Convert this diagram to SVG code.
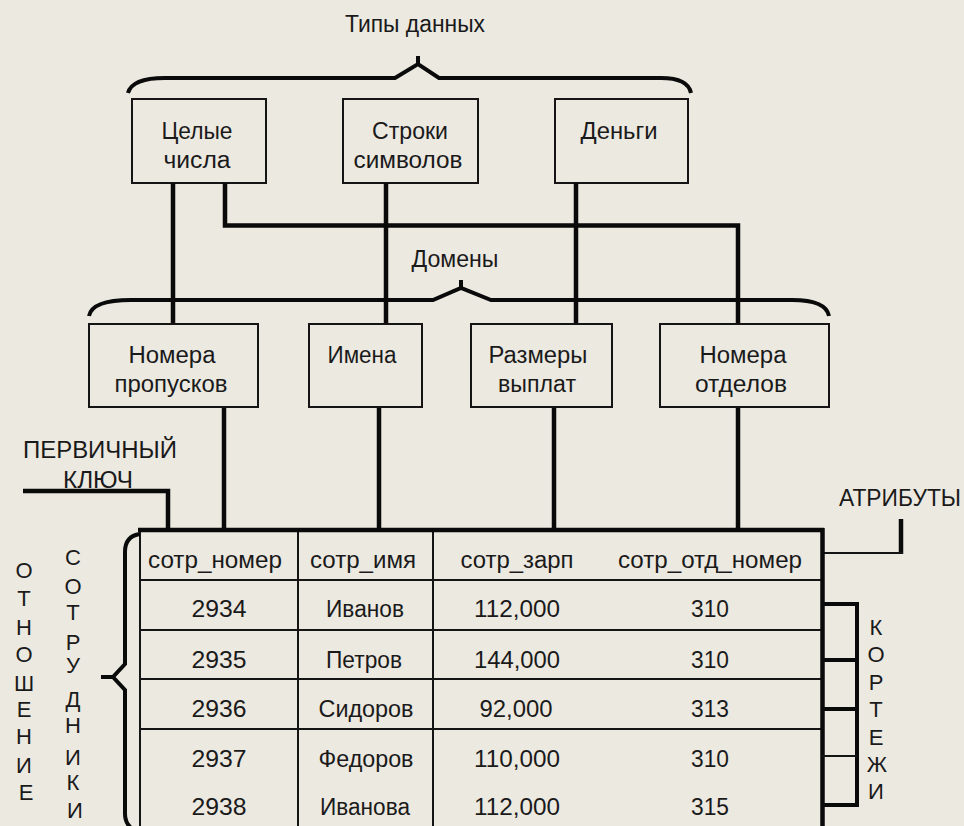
<svg xmlns="http://www.w3.org/2000/svg" width="964" height="826" viewBox="0 0 964 826">
<style>
  text { font-family: "Liberation Sans", Arial, sans-serif; font-size: 23px; fill: #1a1a1a; }
  .c { text-anchor: middle; }
  .v { font-size: 22px; }
  .box { fill: none; stroke: #151515; stroke-width: 2; }
  .ln { fill: none; stroke: #0a0a0a; stroke-width: 4.5; stroke-linecap: butt; }
  .thin { fill: none; stroke: #151515; stroke-width: 2; }
  .brace { fill: none; stroke: #0a0a0a; stroke-width: 4; stroke-linejoin: miter; }
</style>
<rect x="0" y="0" width="964" height="826" fill="#ECE9E1"/>

<g id="title-types">
  <text class="c" x="415" y="32" textLength="140" lengthAdjust="spacingAndGlyphs">Типы данных</text>
  <path class="brace" d="M128,93 Q132,78 165,78 L395,78 L418,64 L439,78 L661,78 Q688,78 691,93 M418,65 V56"/>
</g>

<g id="node-int">
  <rect class="box" x="132" y="99" width="134" height="84"/>
  <text class="c" x="197" y="139" textLength="71" lengthAdjust="spacingAndGlyphs">Целые</text>
  <text class="c" x="197" y="168" textLength="67" lengthAdjust="spacingAndGlyphs">числа</text>
</g>
<g id="node-str">
  <rect class="box" x="343" y="99" width="135" height="84"/>
  <text class="c" x="410" y="139" textLength="76" lengthAdjust="spacingAndGlyphs">Строки</text>
  <text class="c" x="408" y="168" textLength="109" lengthAdjust="spacingAndGlyphs">символов</text>
</g>
<g id="node-money">
  <rect class="box" x="555" y="99" width="133" height="84"/>
  <text class="c" x="619" y="139" textLength="77" lengthAdjust="spacingAndGlyphs">Деньги</text>
</g>

<g id="title-domains">
  <text class="c" x="455" y="267" textLength="87" lengthAdjust="spacingAndGlyphs">Домены</text>
  <path class="brace" d="M89,316 Q92,300 131,300 L433,300 L461,288 L491,300 L792,300 Q826,300 829,316 M461,289 V280"/>
</g>

<g id="connectors">
  <path class="ln" d="M173,183 V324"/>
  <path class="ln" d="M225,183 V225.5 H738 V324" stroke-width="5"/>
  <path class="ln" d="M386,183 V324"/>
  <path class="ln" d="M576,183 V324"/>
  <path class="ln" d="M224,407 V530"/>
  <path class="ln" d="M379,407 V530" stroke-width="5.5"/>
  <path class="ln" d="M554,407 V530"/>
  <path class="ln" d="M738,407 V530"/>
  <path class="ln" d="M23,491 H168 V530"/>
  <path class="ln" d="M901,519 V554"/>
  <path class="thin" d="M822,553 H903"/>
</g>

<g id="node-passes">
  <rect class="box" x="89" y="324" width="169" height="83"/>
  <text class="c" x="172" y="363" textLength="87" lengthAdjust="spacingAndGlyphs">Номера</text>
  <text class="c" x="171" y="392" textLength="113" lengthAdjust="spacingAndGlyphs">пропусков</text>
</g>
<g id="node-names">
  <rect class="box" x="309" y="324" width="113" height="83"/>
  <text class="c" x="362" y="363" textLength="69" lengthAdjust="spacingAndGlyphs">Имена</text>
</g>
<g id="node-pay">
  <rect class="box" x="471" y="324" width="141" height="83"/>
  <text class="c" x="538" y="363" textLength="99" lengthAdjust="spacingAndGlyphs">Размеры</text>
  <text class="c" x="537" y="392" textLength="78" lengthAdjust="spacingAndGlyphs">выплат</text>
</g>
<g id="node-depts">
  <rect class="box" x="660" y="324" width="169" height="83"/>
  <text class="c" x="743" y="363" textLength="87" lengthAdjust="spacingAndGlyphs">Номера</text>
  <text class="c" x="741" y="392" textLength="92" lengthAdjust="spacingAndGlyphs">отделов</text>
</g>

<g id="label-pk">
  <text x="23" y="458" textLength="154" lengthAdjust="spacingAndGlyphs">ПЕРВИЧНЫЙ</text>
  <text x="63" y="488" textLength="70" lengthAdjust="spacingAndGlyphs">КЛЮЧ</text>
</g>

<g id="label-attr">
  <text x="839" y="506" textLength="122" lengthAdjust="spacingAndGlyphs">АТРИБУТЫ</text>
</g>

<g id="table">
  <path class="thin" d="M140,530 V826 M298,530 V826 M433,530 V826"/>
  <path class="thin" d="M140,580 H822 M140,630 H822 M140,679 H822 M140,729 H822"/>
  <path class="ln" d="M138,530 H824" stroke-width="5"/>
  <path class="ln" d="M822.5,528 V826" stroke-width="5"/>
  <text class="c" x="215" y="568" textLength="134" lengthAdjust="spacingAndGlyphs">сотр_номер</text>
  <text class="c" x="363" y="568" textLength="106" lengthAdjust="spacingAndGlyphs">сотр_имя</text>
  <text class="c" x="517" y="568" textLength="113" lengthAdjust="spacingAndGlyphs">сотр_зарп</text>
  <text class="c" x="710" y="568" textLength="184" lengthAdjust="spacingAndGlyphs">сотр_отд_номер</text>

  <text class="c" x="219" y="617" textLength="55" lengthAdjust="spacingAndGlyphs">2934</text>
  <text class="c" x="365" y="617" textLength="78" lengthAdjust="spacingAndGlyphs">Иванов</text>
  <text class="c" x="517" y="617" textLength="86" lengthAdjust="spacingAndGlyphs">112,000</text>
  <text class="c" x="710" y="617" textLength="38" lengthAdjust="spacingAndGlyphs">310</text>

  <text class="c" x="219" y="668" textLength="55" lengthAdjust="spacingAndGlyphs">2935</text>
  <text class="c" x="364" y="668" textLength="76" lengthAdjust="spacingAndGlyphs">Петров</text>
  <text class="c" x="517" y="668" textLength="86" lengthAdjust="spacingAndGlyphs">144,000</text>
  <text class="c" x="710" y="668" textLength="38" lengthAdjust="spacingAndGlyphs">310</text>

  <text class="c" x="219" y="717" textLength="55" lengthAdjust="spacingAndGlyphs">2936</text>
  <text class="c" x="366" y="717" textLength="95" lengthAdjust="spacingAndGlyphs">Сидоров</text>
  <text class="c" x="516" y="717" textLength="73" lengthAdjust="spacingAndGlyphs">92,000</text>
  <text class="c" x="710" y="717" textLength="38" lengthAdjust="spacingAndGlyphs">313</text>

  <text class="c" x="219" y="767" textLength="55" lengthAdjust="spacingAndGlyphs">2937</text>
  <text class="c" x="366" y="767" textLength="95" lengthAdjust="spacingAndGlyphs">Федоров</text>
  <text class="c" x="517" y="767" textLength="86" lengthAdjust="spacingAndGlyphs">110,000</text>
  <text class="c" x="710" y="767" textLength="38" lengthAdjust="spacingAndGlyphs">310</text>

  <text class="c" x="219" y="815" textLength="55" lengthAdjust="spacingAndGlyphs">2938</text>
  <text class="c" x="365" y="815" textLength="90" lengthAdjust="spacingAndGlyphs">Иванова</text>
  <text class="c" x="517" y="815" textLength="86" lengthAdjust="spacingAndGlyphs">112,000</text>
  <text class="c" x="710" y="815" textLength="38" lengthAdjust="spacingAndGlyphs">315</text>
</g>

<g id="brace-relation">
  <path class="brace" d="M140,534 Q125,536 125,552 L125,664 L113,677 L125,690 L125,814 Q125,826 137,832 M101,677 H114"/>
</g>

<g id="label-relation">
  <text class="c v" x="24" y="578">О</text>
  <text class="c v" x="24" y="606">Т</text>
  <text class="c v" x="24" y="635">Н</text>
  <text class="c v" x="24" y="662">О</text>
  <text class="c v" x="24" y="691">Ш</text>
  <text class="c v" x="24" y="717">Е</text>
  <text class="c v" x="24" y="744">Н</text>
  <text class="c v" x="24" y="773">И</text>
  <text class="c v" x="26" y="800">Е</text>
</g>
<g id="label-employees">
  <text class="c v" x="73" y="565">С</text>
  <text class="c v" x="73" y="594">О</text>
  <text class="c v" x="73" y="620">Т</text>
  <text class="c v" x="73" y="650">Р</text>
  <text class="c v" x="73" y="673">У</text>
  <text class="c v" x="73" y="707">Д</text>
  <text class="c v" x="73" y="733">Н</text>
  <text class="c v" x="73" y="765">И</text>
  <text class="c v" x="73" y="790">К</text>
  <text class="c v" x="75" y="818">И</text>
</g>

<g id="bracket-tuples">
  <path class="brace" d="M822,604 H857 V805 H822" stroke-width="4.5"/>
  <path class="brace" d="M822,660 H857 M822,709 H857"/>
  <path class="thin" d="M822,756 H857"/>
</g>
<g id="label-tuples">
  <text class="c v" x="876" y="635">К</text>
  <text class="c v" x="876" y="662">О</text>
  <text class="c v" x="876" y="690">Р</text>
  <text class="c v" x="876" y="717">Т</text>
  <text class="c v" x="876" y="745">Е</text>
  <text class="c v" x="877" y="772">Ж</text>
  <text class="c v" x="876" y="799">И</text>
</g>
</svg>
